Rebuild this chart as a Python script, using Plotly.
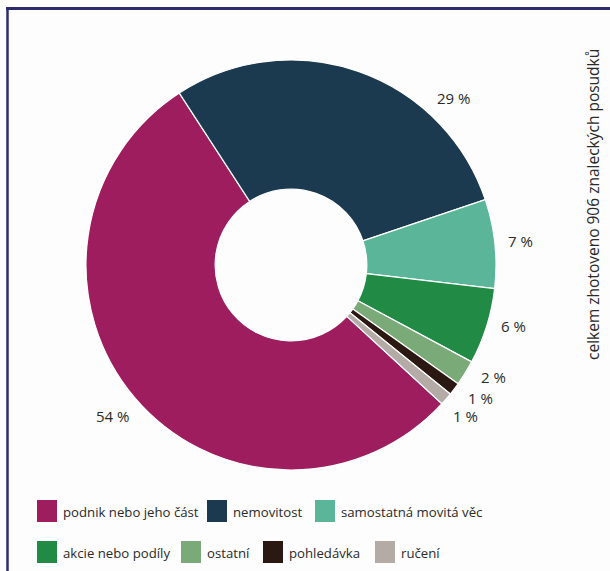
import math
import plotly.graph_objects as go

# ---- data ----
categories = ["podnik nebo jeho část", "nemovitost", "samostatná movitá věc",
              "akcie nebo podíly", "ostatní", "pohledávka", "ručení"]
shares = [54, 29, 7, 6, 2, 1, 1]
colors = ["#9E1D5F", "#1B3A50", "#5BB598", "#218B45", "#7BAA79", "#2C1813", "#B5ABA6"]
side_note = "celkem zhotoveno 906 znaleckých posudků"

# ---- layout constants ----
W, H = 610, 571
CX, CY, R = 291, 265, 205          # pixel centre / radius of the donut
ROT = 132.6
FONT = "Open Sans, sans-serif"
TXT = "#2a2a2a"
label_angle_shift = [0, 25, 0, -2, -2.8, -2.2, 0]

fig = go.Figure()
fig.add_trace(go.Pie(
    labels=categories, values=shares, marker=dict(colors=colors, line=dict(color="white", width=1.2)),
    hole=0.37, sort=False, direction="clockwise", rotation=ROT,
    textinfo="none", hoverinfo="label+value", showlegend=False,
    domain=dict(x=[(CX - R) / W, (CX + R) / W], y=[(H - CY - R) / H, (H - CY + R) / H]),
))

annotations = []
total = sum(shares)
acc = 0
for i, v in enumerate(shares):
    mid = ROT + (acc + v / 2) / total * 360 + label_angle_shift[i]
    acc += v
    a = math.radians(mid)
    txt = f"{v} %"
    hw = 4.3 * len(txt)
    hh = 6
    d = R + 12 + hw * abs(math.sin(a)) + hh * abs(math.cos(a))
    px = CX + d * math.sin(a)
    py = CY - d * math.cos(a)
    annotations.append(dict(x=px / W, y=1 - py / H, xref="paper", yref="paper", text=txt,
                            showarrow=False, xanchor="center", yanchor="middle",
                            font=dict(family=FONT, size=15, color=TXT)))

# side note
annotations.append(dict(x=593 / W, y=1 - 205 / H, xref="paper", yref="paper", text=side_note,
                        showarrow=False, textangle=-90, xanchor="center", yanchor="middle",
                        font=dict(family=FONT, size=15.5, color=TXT)))

# custom legend
legend_rows = [[0, 1, 2], [3, 4, 5, 6]]
legend_x = [[37, 207, 315], [37, 181, 263, 375]]
legend_y = [511, 552]
shapes = []
for r, row in enumerate(legend_rows):
    for k, idx in enumerate(row):
        x0 = legend_x[r][k]
        yc = legend_y[r]
        shapes.append(dict(type="rect", xref="paper", yref="paper",
                           x0=x0 / W, x1=(x0 + 20) / W, y0=1 - (yc + 11) / H, y1=1 - (yc - 11) / H,
                           fillcolor=colors[idx], line=dict(width=0)))
        annotations.append(dict(x=(x0 + 24) / W, y=1 - (yc + 1) / H, xref="paper", yref="paper",
                                text=categories[idx], showarrow=False, xanchor="left", yanchor="middle",
                                font=dict(family=FONT, size=13.2, color=TXT)))

# frame lines
FR = "#2E2C6C"
shapes.append(dict(type="line", xref="paper", yref="paper", x0=6 / W, x1=1, y0=1 - 8.5 / H, y1=1 - 8.5 / H,
                   line=dict(color=FR, width=3)))
shapes.append(dict(type="line", xref="paper", yref="paper", x0=7.5 / W, x1=7.5 / W, y0=0, y1=1 - 7 / H,
                   line=dict(color=FR, width=2.5)))

fig.update_layout(width=W, height=H, margin=dict(l=0, r=0, t=0, b=0),
                  paper_bgcolor="#FDFDFD", plot_bgcolor="#FDFDFD",
                  annotations=annotations, shapes=shapes)
fig.write_html("out.html")
